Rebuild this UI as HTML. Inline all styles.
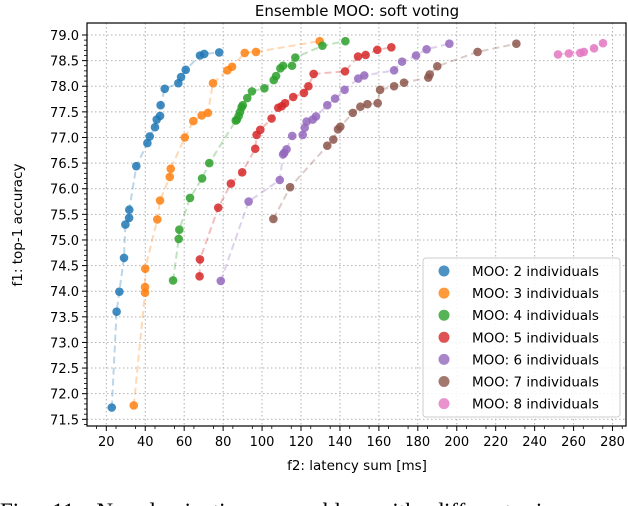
<!DOCTYPE html>
<html><head><meta charset="utf-8"><style>
body{margin:0;background:#fff;}
svg{display:block;font-family:"DejaVu Sans","Liberation Sans",sans-serif;}
</style></head><body>
<svg id="chart" width="628" height="506" viewBox="0 0 628 506" xmlns="http://www.w3.org/2000/svg">
<g id="grid"></g>
<g id="series"></g>
<rect x="87" y="23" width="539" height="403" fill="none" stroke="#000" stroke-width="1.2"/>
<g id="axes"></g>
<text x="357" y="16" font-size="15" text-anchor="middle">Ensemble MOO: soft voting</text>
<text x="357" y="470" font-size="13.5" text-anchor="middle">f2: latency sum [ms]</text>
<text transform="translate(22,225) rotate(-90)" font-size="13.5" text-anchor="middle">f1: top-1 accuracy</text>
<g id="legend"></g>
<text x="0" y="519" font-size="23" font-family="Liberation Serif, serif" word-spacing="10">Fig. 11: Non-dominating ensembles with different sizes</text>
</svg>
<script>
const xTicks=[20,40,60,80,100,120,140,160,180,200,220,240,260,280];
const yTicks=[71.5,72.0,72.5,73.0,73.5,74.0,74.5,75.0,75.5,76.0,76.5,77.0,77.5,78.0,78.5,79.0];
const seriesNames=["MOO: 2 individuals","MOO: 3 individuals","MOO: 4 individuals","MOO: 5 individuals","MOO: 6 individuals","MOO: 7 individuals","MOO: 8 individuals"];
const colors=["#1f77b4","#ff7f0e","#2ca02c","#d62728","#9467bd","#8c564b","#e377c2"];
const s2x=[22.8,25.3,26.7,29.1,29.8,31.7,31.8,35.4,41.1,42.3,45.0,45.9,47.6,47.9,50.0,57.0,58.4,60.8,68.1,70.3,78.0];
const s2y=[71.73,73.6,73.99,74.65,75.3,75.43,75.59,76.44,76.89,77.02,77.2,77.35,77.42,77.63,77.95,78.06,78.18,78.32,78.6,78.63,78.66];
const s3x=[34.1,39.9,39.9,40.0,46.2,47.6,52.6,53.1,60.3,64.7,69.0,72.2,74.8,82.2,84.6,91.1,96.9,129.6];
const s3y=[71.77,73.97,74.08,74.44,75.4,75.77,76.23,76.39,77.0,77.32,77.43,77.48,78.06,78.31,78.38,78.65,78.67,78.88];
const s4x=[54.3,57.2,57.5,63.0,69.2,72.9,86.5,87.1,88.0,88.7,89.5,90.1,92.4,94.8,101.2,106.0,107.2,109.4,110.8,115.4,117.1,131.0,142.8];
const s4y=[74.21,75.02,75.2,75.82,76.2,76.5,77.33,77.35,77.42,77.5,77.59,77.63,77.77,77.9,77.96,78.12,78.2,78.35,78.4,78.4,78.56,78.79,78.88];
const s5x=[67.9,68.1,77.5,84.0,89.8,96.5,97.2,99.1,104.9,108.3,110.1,111.8,116.0,121.5,123.8,126.5,142.6,149.3,153.2,159.2,166.4];
const s5y=[74.29,74.62,75.63,76.1,76.32,76.78,77.05,77.15,77.37,77.58,77.61,77.67,77.79,77.87,78.0,78.24,78.29,78.58,78.61,78.71,78.76];
const s6x=[78.8,93.1,109.1,110.8,111.4,112.6,115.5,120.9,121.9,122.9,126.0,127.7,133.5,137.5,142.4,149.4,152.5,167.8,171.9,179.1,184.5,196.2];
const s6y=[74.2,75.75,76.17,76.67,76.7,76.77,77.03,77.05,77.19,77.31,77.35,77.41,77.63,77.76,77.93,78.15,78.21,78.31,78.48,78.6,78.72,78.83];
const s7x=[105.8,114.4,133.5,136.6,139.0,140.2,146.6,150.5,154.1,159.4,160.6,167.8,172.9,185.4,186.1,190.0,210.7,230.6];
const s7y=[75.41,76.03,76.84,76.96,77.16,77.21,77.48,77.6,77.65,77.67,77.93,78.0,78.07,78.17,78.23,78.39,78.67,78.83];
const s8x=[252.0,257.6,263.4,265.3,270.5,275.1];
const s8y=[78.62,78.64,78.65,78.67,78.74,78.84];
const allX=[s2x,s3x,s4x,s5x,s6x,s7x,s8x];
const allY=[s2y,s3y,s4y,s5y,s6y,s7y,s8y];

const NS="http://www.w3.org/2000/svg";
function X(v){return 106.3+(v-20)*1.947;}
function Y(v){return 35+(79-v)*51.24;}
function mk(tag,attrs,parent){const e=document.createElementNS(NS,tag);for(const k in attrs)e.setAttribute(k,attrs[k]);parent.appendChild(e);return e;}
const grid=document.getElementById('grid'),axes=document.getElementById('axes'),ser=document.getElementById('series'),leg=document.getElementById('legend');
xTicks.forEach(t=>{
  const g=mk('line',{x1:X(t),x2:X(t),y1:23,y2:426,stroke:'#b0b0b0','stroke-width':1,'stroke-dasharray':'1.5,2.5'},grid);
  
  
  const tk=mk('line',{x1:X(t),x2:X(t),y1:426,y2:431,stroke:'#000','stroke-width':1},axes);
  
  
  const lb=mk('text',{x:X(t),y:446,'font-size':13,'text-anchor':'middle'},axes);
  lb.textContent=t;
  
  
});
for(let v=15;v<=285;v+=10){if(v%20===0)continue;const m=mk('line',{x1:X(v),x2:X(v),y1:426,y2:429,stroke:'#000','stroke-width':0.8},axes);
  
  }
yTicks.forEach(t=>{
  const g=mk('line',{x1:87,x2:626,y1:Y(t),y2:Y(t),stroke:'#b0b0b0','stroke-width':1,'stroke-dasharray':'1.5,2.5'},grid);
  
  
  const tk=mk('line',{x1:82,x2:87,y1:Y(t),y2:Y(t),stroke:'#000','stroke-width':1},axes);
  
  
  const lb=mk('text',{x:79,y:Y(t)+5,'font-size':13,'text-anchor':'end'},axes);
  lb.textContent=t.toFixed(1);
  
  
});
for(let i=0;i<76;i++){const v=71.4+i*0.1;const r=Math.round(v*10)%5;if(r===0)continue;if(Y(v)<23||Y(v)>426)continue;
  const m=mk('line',{x1:84,x2:87,y1:Y(v),y2:Y(v),stroke:'#000','stroke-width':0.8},axes);
  
  }
allX.forEach((xs,si)=>{
  const d=xs.map((x,i)=>(i?'L':'M')+X(x).toFixed(1)+','+Y(allY[si][i]).toFixed(1)).join(' ');
  const p=mk('path',{d:d,fill:'none',stroke:colors[si],'stroke-opacity':0.3,'stroke-width':2,'stroke-dasharray':'7,4'},ser);
  
  
  xs.forEach((x,i)=>{
    const c=mk('circle',{cx:X(x),cy:Y(allY[si][i]),r:4.3,fill:colors[si],'fill-opacity':0.85},ser);
    
    
  });
});
const box=mk('rect',{x:423,y:258,width:197,height:159,rx:3,fill:'#fff','fill-opacity':0.85,stroke:'#ccc'},leg);


seriesNames.forEach((n,i)=>{
  const y=271+i*22.1;
  const c=mk('circle',{cx:444,cy:y,r:5.5,fill:colors[i],'fill-opacity':0.8},leg);
  
  
  const t=mk('text',{x:472,y:y+5,'font-size':13.5},leg);
  t.textContent=n;
  
  
});
</script>
</body></html>
